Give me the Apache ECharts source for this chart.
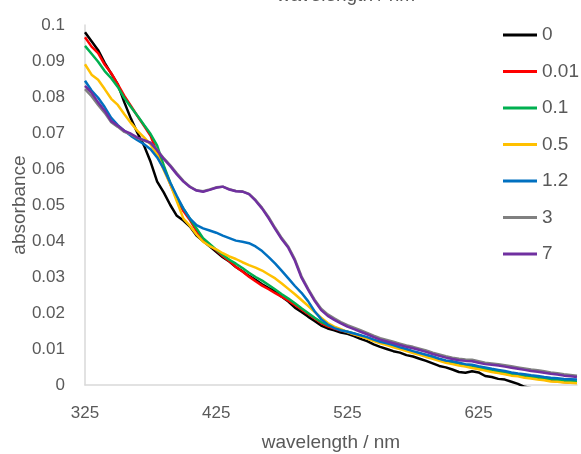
<!DOCTYPE html>
<html>
<head>
<meta charset="utf-8">
<title>absorbance</title>
<script src="https://cdn.jsdelivr.net/npm/echarts@6/dist/echarts.min.js"></script>
<style>
  html, body { margin: 0; padding: 0; background: #fff; }
  #chart { width: 581px; height: 454px; }
</style>
</head>
<body>
<div id="chart"></div>
<script>
// wavelength grid (nm), 5 nm steps
var wavelengths = [];
for (var w = 325; w <= 700; w += 5) wavelengths.push(w);

var xTicks = [325, 425, 525, 625];
var seriesNames = ['0', '0.01', '0.1', '0.5', '1.2', '3', '7'];
var seriesColors = ['#000000', '#ff0000', '#00b050', '#ffc000', '#0070c0', '#808080', '#7030a0'];

// values
var abs0 = [0.098, 0.0955, 0.093, 0.0895, 0.0865, 0.0835, 0.0785, 0.074, 0.070, 0.0665,
  0.062, 0.0565, 0.0535, 0.050, 0.047, 0.0457, 0.044, 0.0415, 0.040, 0.0385,
  0.037, 0.0355, 0.0343, 0.0328, 0.0316, 0.0303, 0.0292, 0.028, 0.0269, 0.026,
  0.0245, 0.0232, 0.0215, 0.0203, 0.019, 0.0178, 0.0165, 0.0157, 0.0152, 0.0146,
  0.0142, 0.0136, 0.0128, 0.0122, 0.0113, 0.0106, 0.010, 0.0094, 0.009, 0.0083,
  0.0079, 0.0073, 0.0067, 0.006, 0.0053, 0.0049, 0.0043, 0.0036, 0.0034, 0.0038,
  0.0035, 0.0025, 0.0022, 0.0017, 0.0015, 0.0009, 0.0003, -0.0005, -0.0008, -0.001,
  -0.0012, -0.0011, -0.0014, -0.0015, -0.0016, -0.0018];
var abs001 = [0.0966, 0.094, 0.0922, 0.089, 0.0866, 0.0835, 0.0803, 0.0775, 0.0747, 0.072,
  0.0692, 0.0645, 0.0605, 0.0558, 0.0517, 0.0483, 0.0458, 0.0428, 0.0403, 0.039,
  0.0374, 0.0358, 0.0344, 0.0328, 0.0315, 0.0301, 0.0288, 0.0276, 0.0266, 0.0255,
  0.0245, 0.0234, 0.0222, 0.021, 0.0197, 0.0185, 0.0172, 0.0163, 0.0157, 0.0151,
  0.0147, 0.0141, 0.0136, 0.0131, 0.0124, 0.0119, 0.0114, 0.0109, 0.0103, 0.0098,
  0.0092, 0.0088, 0.0082, 0.0077, 0.0071, 0.0066, 0.0062, 0.0058, 0.0055, 0.005,
  0.0047, 0.0043, 0.0038, 0.0035, 0.0032, 0.0028, 0.0026, 0.0022, 0.002, 0.0017,
  0.0015, 0.0012, 0.001, 0.0008, 0.0006, 0.0008];
var abs01 = [0.0942, 0.092, 0.0898, 0.0872, 0.0852, 0.0828, 0.0797, 0.0772, 0.0748, 0.0722,
  0.0697, 0.0665, 0.061, 0.0562, 0.052, 0.049, 0.0462, 0.0435, 0.0408, 0.0392,
  0.0376, 0.0362, 0.0348, 0.0337, 0.0325, 0.0312, 0.03, 0.029, 0.0278, 0.0265,
  0.0252, 0.024, 0.0227, 0.0213, 0.02, 0.0187, 0.0175, 0.0166, 0.016, 0.0153,
  0.0148, 0.0143, 0.0137, 0.0131, 0.0125, 0.0119, 0.0114, 0.0108, 0.0102, 0.0097,
  0.0092, 0.0087, 0.0082, 0.0076, 0.007, 0.0065, 0.0062, 0.0058, 0.0055, 0.0051,
  0.0048, 0.0045, 0.0041, 0.0038, 0.0035, 0.0031, 0.0029, 0.0026, 0.0023, 0.002,
  0.0018, 0.0016, 0.0014, 0.0012, 0.0011, 0.001];
var abs05 = [0.0891, 0.0862, 0.0848, 0.0822, 0.0795, 0.0778, 0.0752, 0.0728, 0.0706, 0.0688,
  0.0668, 0.064, 0.0597, 0.0558, 0.051, 0.0462, 0.0442, 0.0418, 0.0398, 0.0386,
  0.0377, 0.0366, 0.0357, 0.035, 0.0341, 0.0333, 0.0326, 0.0318, 0.0307, 0.0296,
  0.0282, 0.0267, 0.0252, 0.0236, 0.022, 0.0203, 0.0187, 0.0172, 0.0162, 0.0155,
  0.0147, 0.0141, 0.0135, 0.0129, 0.0122, 0.0116, 0.0111, 0.0105, 0.01, 0.0094,
  0.0089, 0.0084, 0.0078, 0.0073, 0.0067, 0.0062, 0.0058, 0.0054, 0.0051, 0.0047,
  0.0044, 0.004, 0.0036, 0.0033, 0.003, 0.0026, 0.0024, 0.002, 0.0018, 0.0015,
  0.0013, 0.001, 0.0009, 0.0007, 0.0006, 0.0005];
var abs12 = [0.0845, 0.0818, 0.0798, 0.0772, 0.0742, 0.0722, 0.0706, 0.0692, 0.068, 0.0669,
  0.0655, 0.0632, 0.0601, 0.0562, 0.0525, 0.049, 0.0462, 0.0444, 0.0435, 0.0429,
  0.0423, 0.0415, 0.0408, 0.0401, 0.0398, 0.0394, 0.0385, 0.0372, 0.0355, 0.0337,
  0.0317, 0.0296, 0.0275, 0.0256, 0.0233, 0.0205, 0.0183, 0.0168, 0.0158, 0.0152,
  0.0148, 0.0143, 0.0138, 0.0133, 0.0126, 0.012, 0.0116, 0.0111, 0.0105, 0.01,
  0.0094, 0.0089, 0.0084, 0.0079, 0.0073, 0.0068, 0.0066, 0.0062, 0.0058, 0.0056,
  0.0052, 0.0049, 0.0045, 0.0042, 0.0039, 0.0035, 0.0032, 0.003, 0.0027, 0.0025,
  0.0022, 0.002, 0.0019, 0.0017, 0.0016, 0.0015];
var abs3 = [0.0822, 0.0802, 0.0778, 0.0756, 0.073, 0.0717, 0.0703, 0.0696, 0.0686, 0.0679,
  0.0672, 0.0653, 0.063, 0.061, 0.0588, 0.0567, 0.0551, 0.0541, 0.0538, 0.0543,
  0.0549, 0.0551, 0.0544, 0.0539, 0.0538, 0.0531, 0.0514, 0.0492, 0.0466, 0.0436,
  0.0408, 0.0384, 0.0349, 0.0302, 0.0268, 0.0237, 0.0212, 0.0196, 0.0185, 0.0175,
  0.0166, 0.0159, 0.0152, 0.0145, 0.0137, 0.013, 0.0125, 0.012, 0.0115, 0.011,
  0.0106, 0.0101, 0.0096, 0.009, 0.0085, 0.008, 0.0076, 0.0073, 0.0071, 0.007,
  0.0066, 0.0062, 0.006, 0.0058, 0.0055, 0.0052, 0.0049, 0.0046, 0.0043, 0.0041,
  0.0038, 0.0035, 0.0033, 0.003, 0.0028, 0.0026];
var abs7 = [0.0831, 0.0812, 0.0785, 0.0762, 0.0733, 0.072, 0.0706, 0.0698, 0.0687, 0.068,
  0.0673, 0.0652, 0.0628, 0.0608, 0.0585, 0.0565, 0.055, 0.054, 0.0537, 0.0542,
  0.0548, 0.0551, 0.0543, 0.0538, 0.0537, 0.053, 0.0512, 0.049, 0.0463, 0.0433,
  0.0405, 0.0381, 0.0345, 0.0298, 0.0265, 0.0234, 0.0208, 0.0192, 0.0181, 0.0171,
  0.0162, 0.0155, 0.0148, 0.0141, 0.0133, 0.0126, 0.0121, 0.0116, 0.0111, 0.0106,
  0.0102, 0.0097, 0.0092, 0.0086, 0.0081, 0.0076, 0.0072, 0.0069, 0.0067, 0.0066,
  0.0062, 0.0058, 0.0056, 0.0054, 0.0051, 0.0048, 0.0045, 0.0042, 0.0039, 0.0037,
  0.0034, 0.0031, 0.0029, 0.0026, 0.0024, 0.0022];

var allValues = [abs0, abs001, abs01, abs05, abs12, abs3, abs7];

var textColor = '#595959';
var axisColor = '#d9d9d9';
var fontName = 'Liberation Sans, Arial, sans-serif';

var chart = echarts.init(document.getElementById('chart'), null, { renderer: 'canvas' });

var series = seriesNames.map(function (name, k) {
  return {
    name: name,
    type: 'line',
    symbol: 'none',
    showSymbol: false,
    lineStyle: { color: seriesColors[k], width: 2.5 },
    itemStyle: { color: seriesColors[k] },
    data: wavelengths.map(function (w, i) { return [w, allValues[k][i]]; })
  };
});

var option = {
  animation: false,
  backgroundColor: '#ffffff',
  grid: { left: 85, right: 4, top: 25, bottom: 69, outerBoundsMode: 'none' },
  // the top of the picture shows a cut-off copy of the axis title
  graphic: [{
    type: 'text',
    x: 346,
    y: 5,
    style: {
      text: 'wavelength / nm',
      fill: textColor,
      font: '19px ' + fontName,
      textAlign: 'center',
      textVerticalAlign: 'bottom'
    }
  }],
  legend: {
    orient: 'vertical',
    left: 503,
    top: 25,
    padding: 0,
    icon: 'rect',
    itemWidth: 34,
    itemHeight: 3,
    itemGap: 16.5,
    textStyle: { color: textColor, fontSize: 19, fontFamily: fontName, lineHeight: 20 },
    data: seriesNames
  },
  xAxis: {
    type: 'value',
    min: 325,
    max: 700,
    name: 'wavelength / nm',
    nameLocation: 'middle',
    nameGap: 48,
    nameMoveOverlap: false,
    nameTextStyle: { color: textColor, fontSize: 19, fontFamily: fontName },
    axisLine: { show: true, lineStyle: { color: axisColor, width: 1.5 } },
    axisTick: { show: false },
    splitLine: { show: false },
    axisLabel: {
      customValues: xTicks,
      color: textColor,
      fontSize: 17,
      fontFamily: fontName,
      margin: 20
    }
  },
  yAxis: {
    type: 'value',
    min: 0,
    max: 0.1,
    interval: 0.01,
    name: 'absorbance',
    nameLocation: 'middle',
    nameGap: 56,
    nameMoveOverlap: false,
    nameTextStyle: { color: textColor, fontSize: 19, fontFamily: fontName },
    axisLine: { show: true, lineStyle: { color: axisColor, width: 1.5 } },
    axisTick: { show: false },
    splitLine: { show: false },
    axisLabel: {
      color: textColor,
      fontSize: 17,
      fontFamily: fontName,
      margin: 20,
      formatter: function (v) { return String(+v.toFixed(2)); }
    }
  },
  series: series
};

chart.setOption(option);
</script>
</body>
</html>
